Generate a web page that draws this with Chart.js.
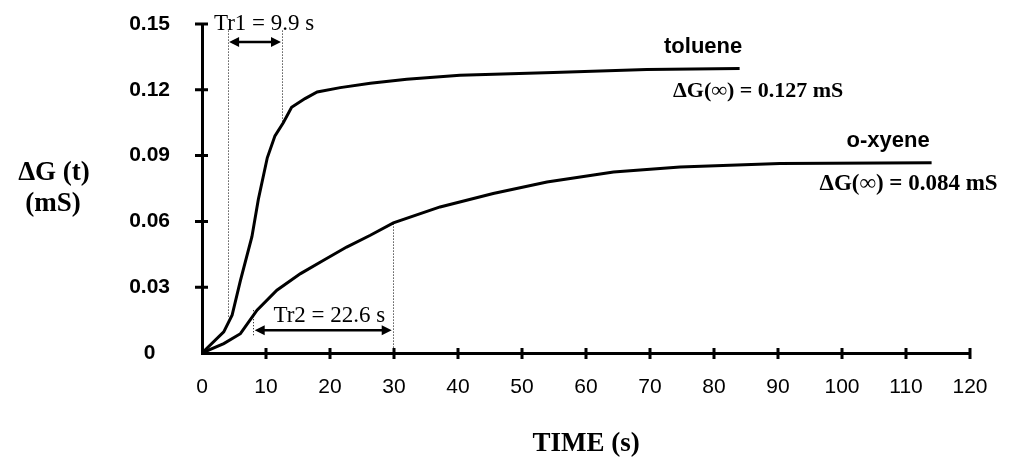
<!DOCTYPE html>
<html>
<head>
<meta charset="utf-8">
<script src="https://cdn.jsdelivr.net/npm/chart.js@4.4.1/dist/chart.umd.min.js"></script>
<style>
  html, body { margin: 0; padding: 0; background: #fff; }
  #wrap { width: 1009px; height: 459px; position: relative; }
</style>
</head>
<body>
<div id="wrap"><canvas id="responseChart"></canvas></div>
<script>
// Conductance response ΔG(t) of the sensor to toluene and o-xylene

const TOLUENE_T = [0, 3.4, 4.7, 6.0, 7.8, 8.8, 10.2, 11.4, 12.7, 14.0, 16.1, 18.0, 21.6, 26.3, 32, 40.3, 54.9, 69.5, 84];
const TOLUENE_G = [0, 0.0096, 0.0172, 0.033, 0.053, 0.070, 0.089, 0.099, 0.105, 0.112, 0.116, 0.119, 0.121, 0.123, 0.1248, 0.1266, 0.1279, 0.1292, 0.1297];

const XYLENE_T = [0, 3.4, 6.0, 8.6, 11.7, 15.4, 19.0, 22.6, 26.3, 29.9, 37.2, 45.5, 53.9, 64.3, 74.7, 90.3, 114];
const XYLENE_G = [0, 0.0043, 0.0088, 0.0195, 0.0286, 0.0362, 0.0423, 0.0483, 0.0537, 0.0593, 0.0666, 0.0727, 0.078, 0.0825, 0.0848, 0.0864, 0.0867];

const X_TICKS = [0, 10, 20, 30, 40, 50, 60, 70, 80, 90, 100, 110, 120];
const Y_TICKS = [0, 0.03, 0.06, 0.09, 0.12, 0.15];
const Y_TICK_LABELS = ['0', '0.03', '0.06', '0.09', '0.12', '0.15'];

// response-time markers (seconds)
const TR1_BOUNDS = [4.0, 12.5];
const TR2_BOUNDS = [8.0, 29.8];

const SANS = "'Liberation Sans', Arial, sans-serif";
const SERIF = "'Liberation Serif', 'Times New Roman', serif";

const toPoints = (ts, gs) => ts.map((t, i) => ({ x: t, y: gs[i] }));

// ─────────────────────────────────────────────
// Cross ticks on both axes
// ─────────────────────────────────────────────
const crossTicks = {
  id: 'crossTicks',
  afterDraw(chart) {
    const { ctx, scales: { x, y } } = chart;
    ctx.save();
    ctx.strokeStyle = '#000';
    ctx.lineWidth = 3;
    ctx.beginPath();
    X_TICKS.slice(1).forEach(v => {
      const px = x.getPixelForValue(v);
      ctx.moveTo(px, y.bottom - 5);
      ctx.lineTo(px, y.bottom + 6);
    });
    Y_TICKS.slice(1).forEach(v => {
      const py = y.getPixelForValue(v);
      ctx.moveTo(x.left - 7, py);
      ctx.lineTo(x.left + 6, py);
    });
    ctx.stroke();
    ctx.restore();
  }
};

// ─────────────────────────────────────────────
// Annotations: Tr markers, labels, axis titles
// ─────────────────────────────────────────────
function dotted(ctx, x, y, t, v0, v1) {
  ctx.save();
  ctx.strokeStyle = '#000';
  ctx.lineWidth = 1;
  ctx.setLineDash([1, 2]);
  const px = Math.round(x.getPixelForValue(t)) + 0.5;
  ctx.beginPath();
  ctx.moveTo(px, y.getPixelForValue(v0));
  ctx.lineTo(px, y.getPixelForValue(v1));
  ctx.stroke();
  ctx.restore();
}

function arrow(ctx, x, y, t0, t1, v) {
  const x0 = x.getPixelForValue(t0) + 1.5, x1 = x.getPixelForValue(t1) - 1;
  const py = y.getPixelForValue(v);
  const head = 10, half = 5;
  ctx.save();
  ctx.strokeStyle = '#000';
  ctx.fillStyle = '#000';
  ctx.lineWidth = 2.5;
  ctx.beginPath();
  ctx.moveTo(x0 + head - 2, py);
  ctx.lineTo(x1 - head + 2, py);
  ctx.stroke();
  ctx.beginPath();
  ctx.moveTo(x0, py);
  ctx.lineTo(x0 + head, py - half);
  ctx.lineTo(x0 + head, py + half);
  ctx.closePath();
  ctx.moveTo(x1, py);
  ctx.lineTo(x1 - head, py - half);
  ctx.lineTo(x1 - head, py + half);
  ctx.closePath();
  ctx.fill();
  ctx.restore();
}

function label(ctx, x, y, text, t, v, font) {
  ctx.save();
  ctx.fillStyle = '#000';
  ctx.font = font;
  ctx.textAlign = 'center';
  ctx.textBaseline = 'alphabetic';
  ctx.fillText(text, x.getPixelForValue(t), y.getPixelForValue(v));
  ctx.restore();
}

const annotations = {
  id: 'annotations',
  afterDatasetsDraw(chart) {
    const { ctx, scales: { x, y } } = chart;

    // Tr1
    dotted(ctx, x, y, TR1_BOUNDS[0], 0.147, 0.016);
    dotted(ctx, x, y, TR1_BOUNDS[1], 0.147, 0.105);
    arrow(ctx, x, y, TR1_BOUNDS[0], TR1_BOUNDS[1], 0.1418);
    label(ctx, x, y, 'Tr1 = 9.9 s', 9.7, 0.1471, `23px ${SERIF}`);

    // Tr2
    dotted(ctx, x, y, TR2_BOUNDS[0], 0.0195, 0.0076);
    dotted(ctx, x, y, TR2_BOUNDS[1], 0.059, 0);
    arrow(ctx, x, y, TR2_BOUNDS[0], TR2_BOUNDS[1], 0.0104);
    label(ctx, x, y, 'Tr2 = 22.6 s', 19.9, 0.0140, `23px ${SERIF}`);

    // series names and plateau values
    label(ctx, x, y, 'toluene', 78.3, 0.1368, `bold 22px ${SANS}`);
    label(ctx, x, y, 'ΔG(∞) = 0.127 mS', 86.9, 0.1166, `bold 22px ${SERIF}`);
    label(ctx, x, y, 'o-xyene', 107.2, 0.0938, `bold 22px ${SANS}`);
    label(ctx, x, y, 'ΔG(∞) = 0.084 mS', 110.4, 0.0745, `bold 23px ${SERIF}`);

    // axis titles
    ctx.save();
    ctx.fillStyle = '#000';
    ctx.textAlign = 'center';
    ctx.font = `bold 27px ${SERIF}`;
    ctx.fillText('ΔG (t)', 54, 180);
    ctx.fillText('(mS)', 53, 211);
    ctx.fillText('TIME (s)', (x.left + x.right) / 2, 451);
    ctx.restore();
  }
};

// ─────────────────────────────────────────────
// Chart
// ─────────────────────────────────────────────
const lineStyle = {
  borderColor: '#000',
  borderWidth: 3,
  pointRadius: 0,
  fill: false,
  tension: 0,
};

new Chart(document.getElementById('responseChart'), {
  type: 'line',
  data: {
    datasets: [
      { label: 'toluene', data: toPoints(TOLUENE_T, TOLUENE_G), ...lineStyle },
      { label: 'o-xyene', data: toPoints(XYLENE_T, XYLENE_G), ...lineStyle },
    ]
  },
  options: {
    responsive: true,
    maintainAspectRatio: false,
    animation: false,
    layout: { padding: { left: 0, top: 24, right: 39, bottom: 0 } },
    plugins: {
      legend: { display: false },
      tooltip: { enabled: false },
    },
    scales: {
      x: {
        type: 'linear',
        min: 0,
        max: 120,
        afterBuildTicks: s => { s.ticks = X_TICKS.map(v => ({ value: v })); },
        afterFit: s => { s.height = 106; s.paddingLeft = 0; s.paddingRight = 0; },
        grid: { display: false, drawTicks: false },
        border: { display: true, color: '#000', width: 3 },
        ticks: {
          color: '#000',
          padding: 22,
          maxRotation: 0,
          autoSkip: false,
          font: { family: SANS, size: 21 },
        }
      },
      y: {
        min: 0,
        max: 0.15,
        afterBuildTicks: s => { s.ticks = Y_TICKS.map(v => ({ value: v })); },
        // tick padding would otherwise inflate the top inset
        afterFit: s => { s.width = 202; s.paddingTop = 0; s.paddingBottom = 0; },
        grid: { display: false, drawTicks: false },
        border: { display: true, color: '#000', width: 3 },
        ticks: {
          color: '#000',
          padding: 32,
          crossAlign: 'center',
          font: { family: SANS, size: 21, weight: 'bold' },
          callback: (v, i) => Y_TICK_LABELS[i],
        }
      }
    }
  },
  plugins: [crossTicks, annotations]
});
</script>
</body>
</html>
